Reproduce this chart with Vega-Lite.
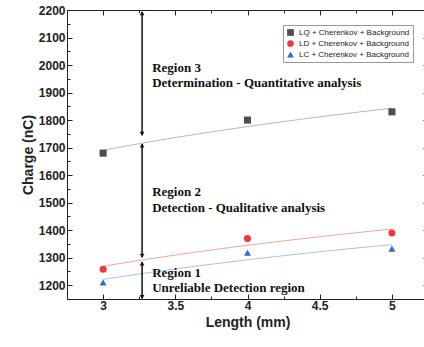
{
  "$schema": "https://vega.github.io/schema/vega-lite/v6.json",
  "width": 361,
  "height": 289,
  "autosize": "none",
  "padding": {"left": 67, "top": 10, "right": 0, "bottom": 48},
  "background": "white",
  "config": {
    "view": {"stroke": "#222", "strokeWidth": 1},
    "axis": {
      "domainColor": "#222",
      "tickColor": "#222",
      "labelFont": "Liberation Sans",
      "labelFontWeight": "bold",
      "labelFontSize": 12,
      "labelColor": "#222",
      "titleFont": "Liberation Sans",
      "titleFontWeight": "bold",
      "titleFontSize": 14,
      "titleColor": "#222",
      "grid": false
    }
  },
  "datasets": {
    "pts": [
      {"x": 3, "y": 1680, "s": "LQ + Cherenkov + Background"},
      {"x": 4, "y": 1800, "s": "LQ + Cherenkov + Background"},
      {"x": 5, "y": 1830, "s": "LQ + Cherenkov + Background"},
      {"x": 3, "y": 1258, "s": "LD + Cherenkov + Background"},
      {"x": 4, "y": 1370, "s": "LD + Cherenkov + Background"},
      {"x": 5, "y": 1390, "s": "LD + Cherenkov + Background"},
      {"x": 3, "y": 1210, "s": "LC + Cherenkov + Background"},
      {"x": 4, "y": 1318, "s": "LC + Cherenkov + Background"},
      {"x": 5, "y": 1333, "s": "LC + Cherenkov + Background"}
    ],
    "arrows": [
      {"x": 3.27, "y": 2193, "y2": 1745},
      {"x": 3.27, "y": 1713, "y2": 1302},
      {"x": 3.27, "y": 1284, "y2": 1152}
    ],
    "heads": [
      {"x": 3.27, "y": 2188, "dir": "up"},
      {"x": 3.27, "y": 1750, "dir": "down"},
      {"x": 3.27, "y": 1708, "dir": "up"},
      {"x": 3.27, "y": 1307, "dir": "down"},
      {"x": 3.27, "y": 1279, "dir": "up"},
      {"x": 3.27, "y": 1157, "dir": "down"}
    ],
    "labels": [
      {"x": 3.34, "y": 1989, "t": "Region 3"},
      {"x": 3.34, "y": 1935, "t": "Determination - Quantitative analysis"},
      {"x": 3.34, "y": 1538, "t": "Region 2"},
      {"x": 3.34, "y": 1480, "t": "Detection - Qualitative analysis"},
      {"x": 3.34, "y": 1244, "t": "Region 1"},
      {"x": 3.34, "y": 1189, "t": "Unreliable Detection region"}
    ]
  },
  "resolve": {"axis": {"x": "independent", "y": "independent"}},
  "layer": [
    {
      "data": {"name": "pts"},
      "transform": [
        {"filter": "datum.s === 'LQ + Cherenkov + Background'"},
        {"regression": "y", "on": "x", "method": "log", "extent": [3, 5]}
      ],
      "mark": {"type": "line", "strokeWidth": 1, "color": "#b8b8b8"},
      "encoding": {
        "x": {"field": "x", "type": "quantitative", "scale": {"domain": [2.75, 5.25], "nice": false, "zero": false},
          "axis": {"orient": "top", "title": null, "labels": false, "domain": false,
            "values": [3, 3.25, 3.5, 3.75, 4, 4.25, 4.5, 4.75, 5, 5.25],
            "tickSize": {"condition": {"test": "datum.value * 2 % 1 === 0", "value": -5}, "value": -3}}},
        "y": {"field": "y", "type": "quantitative", "scale": {"domain": [1150, 2200], "nice": false, "zero": false},
          "axis": {"orient": "right", "title": null, "labels": false, "domain": false,
            "values": [1200, 1250, 1300, 1350, 1400, 1450, 1500, 1550, 1600, 1650, 1700, 1750, 1800, 1850, 1900, 1950, 2000, 2050, 2100, 2150, 2200],
            "tickSize": {"condition": {"test": "datum.value % 100 === 0", "value": -5}, "value": -3}}}
      }
    },
    {
      "data": {"name": "pts"},
      "transform": [
        {"filter": "datum.s === 'LD + Cherenkov + Background'"},
        {"regression": "y", "on": "x", "method": "log", "extent": [3, 5]}
      ],
      "mark": {"type": "line", "strokeWidth": 1, "color": "#f0a4a4"},
      "encoding": {
        "x": {"field": "x", "type": "quantitative", "axis": null},
        "y": {"field": "y", "type": "quantitative", "axis": null}
      }
    },
    {
      "data": {"name": "pts"},
      "transform": [
        {"filter": "datum.s === 'LC + Cherenkov + Background'"},
        {"regression": "y", "on": "x", "method": "log", "extent": [3, 5]}
      ],
      "mark": {"type": "line", "strokeWidth": 1, "color": "#a6c3ea"},
      "encoding": {
        "x": {"field": "x", "type": "quantitative", "axis": null},
        "y": {"field": "y", "type": "quantitative", "axis": null}
      }
    },
    {
      "data": {"name": "pts"},
      "mark": {"type": "point", "filled": true, "opacity": 1},
      "encoding": {
        "x": {"field": "x", "type": "quantitative",
          "axis": {"orient": "bottom", "title": "Length (mm)", "values": [3, 3.25, 3.5, 3.75, 4, 4.25, 4.5, 4.75, 5],
            "format": "~g",
            "labelExpr": "datum.value * 2 % 1 === 0 ? datum.label : ''",
            "tickSize": {"condition": {"test": "datum.value * 2 % 1 === 0", "value": -5}, "value": -3},
            "labelPadding": 6, "titlePadding": 4}},
        "y": {"field": "y", "type": "quantitative",
          "axis": {"orient": "left", "title": "Charge (nC)",
            "values": [1200, 1250, 1300, 1350, 1400, 1450, 1500, 1550, 1600, 1650, 1700, 1750, 1800, 1850, 1900, 1950, 2000, 2050, 2100, 2150, 2200],
            "labelExpr": "datum.value % 100 === 0 ? datum.label : ''",
            "format": "d",
            "tickSize": {"condition": {"test": "datum.value % 100 === 0", "value": -5}, "value": -3},
            "labelPadding": 7, "titlePadding": 3}},
        "color": {"field": "s", "type": "nominal",
          "scale": {"domain": ["LQ + Cherenkov + Background", "LD + Cherenkov + Background", "LC + Cherenkov + Background"],
            "range": ["#4d4d4d", "#f03a3a", "#2a6fd8"]},
          "legend": {"orient": "none", "legendX": 216, "legendY": 15, "title": null,
            "strokeColor": "#999", "fillColor": "white", "padding": 3, "rowPadding": 2,
            "labelFont": "Liberation Sans", "labelFontSize": 8, "labelColor": "#222", "symbolSize": 45, "labelLimit": 200}},
        "shape": {"field": "s", "type": "nominal",
          "scale": {"domain": ["LQ + Cherenkov + Background", "LD + Cherenkov + Background", "LC + Cherenkov + Background"],
            "range": ["square", "circle", "triangle-up"]}},
        "size": {"value": 50}
      }
    },
    {
      "data": {"name": "arrows"},
      "mark": {"type": "rule", "color": "#111", "strokeWidth": 1.5},
      "encoding": {
        "x": {"field": "x", "type": "quantitative", "axis": null},
        "y": {"field": "y", "type": "quantitative", "axis": null},
        "y2": {"field": "y2"}
      }
    },
    {
      "data": {"name": "heads"},
      "transform": [{"filter": "datum.dir === 'up'"}],
      "mark": {"type": "point", "filled": true, "color": "#111", "opacity": 1, "size": 22, "shape": "triangle-up"},
      "encoding": {
        "x": {"field": "x", "type": "quantitative", "axis": null},
        "y": {"field": "y", "type": "quantitative", "axis": null}
      }
    },
    {
      "data": {"name": "heads"},
      "transform": [{"filter": "datum.dir === 'down'"}],
      "mark": {"type": "point", "filled": true, "color": "#111", "opacity": 1, "size": 22, "shape": "triangle-down"},
      "encoding": {
        "x": {"field": "x", "type": "quantitative", "axis": null},
        "y": {"field": "y", "type": "quantitative", "axis": null}
      }
    },
    {
      "data": {"name": "labels"},
      "mark": {"type": "text", "align": "left", "baseline": "middle", "font": "Liberation Serif", "fontWeight": "bold", "fontSize": 13, "color": "#111"},
      "encoding": {
        "x": {"field": "x", "type": "quantitative", "axis": null},
        "y": {"field": "y", "type": "quantitative", "axis": null},
        "text": {"field": "t"}
      }
    }
  ]
}
